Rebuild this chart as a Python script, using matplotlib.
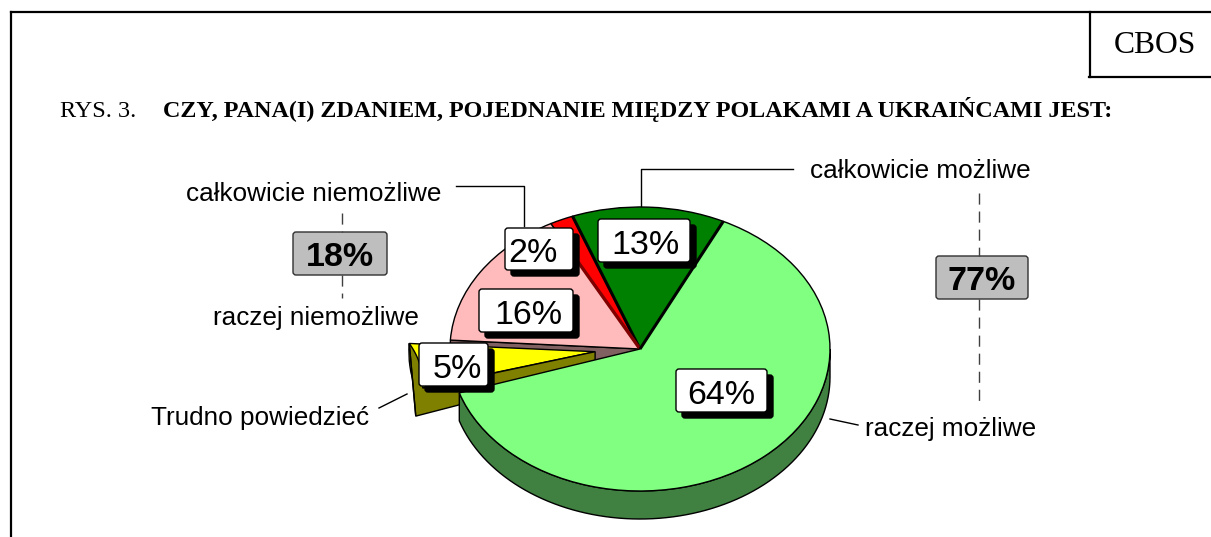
import numpy as np
import matplotlib
matplotlib.use("Agg")
import matplotlib.pyplot as plt
from matplotlib.patches import FancyBboxPatch, Polygon

W, H = 1211, 537
# ---- data ----
categories = ["całkowicie możliwe", "całkowicie niemożliwe", "raczej niemożliwe",
              "Trudno powiedzieć", "raczej możliwe"]
values = [13, 2, 16, 5, 64]
colors = ["#008000", "#FF0000", "#FFBBBB", "#FFFF00", "#80FF80"]
side_colors = ["#004000", "#800000", "#806060", "#808000", "#408040"]
group_labels = ["18%", "77%"]
title_prefix = "RYS. 3."
title_text = "CZY, PANA(I) ZDANIEM, POJEDNANIE MIĘDZY POLAKAMI A UKRAIŃCAMI JEST:"
source = "CBOS"

# ---- layout ----
CX, CY, RX, RY, DEPTH = 640, 349, 190, 142, 28
SANS, SERIF = "Liberation Sans", "Liberation Serif"

fig = plt.figure(figsize=(W / 100, H / 100), dpi=100, facecolor="white")
ax = fig.add_axes([0, 0, 1, 1])
wedges, _ = ax.pie(values, startangle=64, colors=colors, explode=[0, 0, 0, 0.237, 0],
                   radius=1, wedgeprops=dict(edgecolor="black", linewidth=1))
ax.set_aspect("auto")
ax.set_xlim(-CX / RX, (W - CX) / RX)
ax.set_ylim((CY - H) / RY, CY / RY)
ax.axis("off")

ov = fig.add_axes([0, 0, 1, 1], zorder=5)
ov.set_xlim(0, W)
ov.set_ylim(H, 0)
ov.axis("off")
ov.patch.set_alpha(0)


def ux(dx):
    return dx / RX


def uy(dy):
    return -dy / RY


def rim(w, t1, t2, n=80):
    t = np.radians(np.linspace(t1, t2, n))
    return np.column_stack([w.center[0] + w.r * np.cos(t), w.center[1] + w.r * np.sin(t)])


green, red, pink, yellow, light = wedges
d = -uy(DEPTH)

# Perspective of the original: left-hand slices sit a little lower than true angles
pink.set_theta2(pink.theta2 + 0.8)
yellow.set_theta1(yellow.theta1 + 1.0)
yellow.set_theta2(yellow.theta2 + 2.0)
yellow.set_radius(0.98)
light.set_theta1(light.theta1 + 4.4)

green.set_zorder(2); red.set_zorder(2); pink.set_zorder(2)
yellow.set_zorder(3); light.set_zorder(6)

# cut face of the slice next to the pulled-out one
p_rim = rim(pink, pink.theta2, pink.theta2, 1)[0]
ax.add_patch(Polygon([(0, 0), p_rim, p_rim - (0, d), (0, -d)], closed=True,
                     facecolor=side_colors[2], edgecolor="black", lw=1, zorder=1))

# pulled-out slice: wall and cut face
arc = rim(yellow, yellow.theta1, yellow.theta2)
apex = np.array(yellow.center)
p1, p2 = arc[0], arc[-1]
q = p2 + (ux(7), uy(-1))
low = p2 + (ux(0), uy(27))
s = np.linspace(0, 1, 30)[:, None]
chord = p1 + s * (q - p1)
bend = (s * (1 - s) * 4) * np.array([ux(4), uy(-1)])
inner = chord + bend
clip = Polygon(np.vstack([p1 + (ux(-1), uy(-3)), apex + (ux(3), uy(-3)), apex + (ux(3), uy(6)), q, inner[::-1]]),
               closed=True, transform=ax.transData)
yellow.set_clip_path(clip)
wall = np.vstack([inner, apex, apex + (0, uy(18)), low])
ax.add_patch(Polygon(wall, closed=True, facecolor=side_colors[3], edgecolor="black", lw=1, zorder=4))
ax.add_patch(Polygon([p1, low], closed=False, edgecolor="black", lw=1, zorder=4))

# main slice: wall
top = rim(light, light.theta1, 360)
ax.add_patch(Polygon(np.vstack([top, (top - (0, d))[::-1]]), closed=True,
                     facecolor=side_colors[4], edgecolor="black", lw=1, zorder=5))

# heavier divisions between the slices
for th, col, lw, r in [(green.theta1, "black", 2.2, 1), (green.theta2, "black", 2.2, 1),
                       (red.theta2, "#800000", 2.4, 0.92)]:
    t = np.radians(th)
    ax.plot([0, r * np.cos(t)], [0, r * np.sin(t)], color=col, lw=lw, zorder=7 if th == green.theta1 else 3,
            solid_capstyle="butt")

# ---- page frame ----
for xs, ys in [([11, 11], [H, 12]), ([11, W], [12, 12]), ([1090, 1090], [12, 77]), ([1089, W], [77, 77])]:
    ov.plot(xs, ys, color="black", lw=1.6, solid_capstyle="projecting")
ov.text(1155, 53, source, family=SERIF, fontsize=22.8, ha="center", va="baseline")
ov.text(60, 117, title_prefix, family=SERIF, fontsize=17.5, ha="left", va="baseline")
ov.text(163, 117, title_text, family=SERIF, fontsize=17.4, fontweight="bold", ha="left", va="baseline")

# ---- leaders ----
for xs, ys in [([456, 524, 524], [186, 186, 226]), ([641, 641, 793], [206, 169, 169]),
               ([379, 407], [408, 394]), ([830, 858], [419, 425])]:
    ov.plot(xs, ys, color="black", lw=1)
for xs, ys in [([342, 342], [213, 232]), ([342, 342], [275, 298]),
               ([979, 979], [193, 256]), ([979, 979], [299, 402])]:
    ov.plot(xs, ys, color="#404040", lw=1, dashes=(8, 5))

# ---- outside labels ----
outer = [(920.5, 170.5), (314, 194), (315.5, 317.5), (260, 418), (950.5, 429)]
for name, (x, y) in zip(categories, outer):
    ov.text(x, y, name, family=SANS, fontsize=18.8, ha="center", va="center")

# ---- value boxes ----
boxes = [(598, 219, 92, 43), (505, 228, 68, 42), (479, 289, 94, 43), (419, 343, 69, 43), (676, 369, 91, 43)]
text_shift = [2, -6, 2.5, 4, 0]
for v, (x, y, w, h), dx in zip(values, boxes, text_shift):
    ov.add_patch(FancyBboxPatch((x + 6, y + 6), w, h, boxstyle="round,pad=0,rounding_size=3",
                                facecolor="black", edgecolor="black", lw=1))
    ov.add_patch(FancyBboxPatch((x, y), w, h, boxstyle="round,pad=0,rounding_size=3",
                                facecolor="white", edgecolor="black", lw=1))
    ov.text(x + w / 2 + dx, y + h / 2 + 1, f"{v}%", family=SANS, fontsize=24.5, ha="center", va="center_baseline")

for lab, (x, y, w, h) in zip(group_labels, [(293, 232, 94, 43), (936, 256, 92, 43)]):
    ov.add_patch(FancyBboxPatch((x, y), w, h, boxstyle="round,pad=0,rounding_size=3",
                                facecolor="#BEBEBE", edgecolor="#303030", lw=1))
    ov.text(x + w / 2, y + h / 2 + 1, lab, family=SANS, fontsize=24.5, fontweight="bold",
            ha="center", va="center_baseline")

fig.savefig("out.png", dpi=100)
